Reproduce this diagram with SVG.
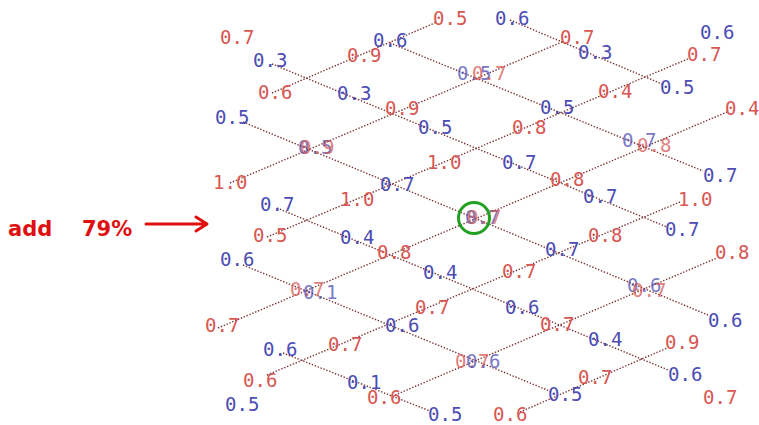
<svg xmlns="http://www.w3.org/2000/svg" width="759" height="425" viewBox="0 0 759 425">
<defs>
<style>
.ln{stroke:#7a3434;stroke-width:1.4;stroke-dasharray:1.4 1.7;fill:none}
text{font-family:"DejaVu Sans Mono","Liberation Mono",monospace;font-size:19px}
.r{fill:#d85652}
.b{fill:#4c4cb4}
.o{opacity:0.75}
.add{font-family:"DejaVu Sans","Liberation Sans",sans-serif;font-size:21px;font-weight:bold;fill:#e01010}
.arr{stroke:#e01010;stroke-width:3;fill:none;stroke-linecap:round;stroke-linejoin:round}
</style>
</defs>
<rect width="759" height="425" fill="#ffffff"/>
<g id="connectors">
<line class="ln" x1="272" y1="64" x2="667" y2="227"/>
<line class="ln" x1="390" y1="43" x2="703" y2="171"/>
<line class="ln" x1="510" y1="20" x2="662" y2="84"/>
<line class="ln" x1="243" y1="122" x2="708" y2="315"/>
<line class="ln" x1="277" y1="208" x2="668" y2="370"/>
<line class="ln" x1="243" y1="265" x2="552" y2="392"/>
<line class="ln" x1="283" y1="353" x2="430" y2="411"/>
<line class="ln" x1="272" y1="93" x2="437" y2="22"/>
<line class="ln" x1="230" y1="183" x2="562" y2="42"/>
<line class="ln" x1="267" y1="237" x2="690" y2="58"/>
<line class="ln" x1="218" y1="328" x2="727" y2="112"/>
<line class="ln" x1="267" y1="375" x2="680" y2="202"/>
<line class="ln" x1="395" y1="395" x2="717" y2="258"/>
<line class="ln" x1="520" y1="412" x2="667" y2="348"/>
</g>
<g id="labels">
<text class="r" x="220" y="44">0.7</text>
<text class="b" x="253" y="67">0.3</text>
<text class="r" x="347" y="62">0.9</text>
<text class="b" x="373" y="47">0.6</text>
<text class="r" x="433" y="25">0.5</text>
<text class="b" x="495" y="25">0.6</text>
<text class="r" x="560" y="44">0.7</text>
<text class="b" x="578" y="59">0.3</text>
<text class="b" x="700" y="39">0.6</text>
<text class="r" x="687" y="61">0.7</text>
<text class="r" x="258" y="99">0.6</text>
<text class="b" x="337" y="100">0.3</text>
<text class="b o" x="457" y="80">0.5</text>
<text class="r o" x="472" y="80">0.7</text>
<text class="r" x="598" y="98">0.4</text>
<text class="b" x="660" y="94">0.5</text>
<text class="b" x="215" y="124">0.5</text>
<text class="r" x="385" y="115">0.9</text>
<text class="b" x="418" y="134">0.5</text>
<text class="b" x="540" y="114">0.5</text>
<text class="r" x="725" y="115">0.4</text>
<text class="b o" x="298" y="154">0.5</text>
<text class="r o" x="300" y="154">0.9</text>
<text class="r" x="512" y="134">0.8</text>
<text class="b o" x="622" y="147">0.7</text>
<text class="r o" x="637" y="152">0.8</text>
<text class="r" x="427" y="169">1.0</text>
<text class="b" x="502" y="169">0.7</text>
<text class="r" x="213" y="189">1.0</text>
<text class="b" x="380" y="191">0.7</text>
<text class="r" x="550" y="186">0.8</text>
<text class="b" x="703" y="182">0.7</text>
<text class="b" x="583" y="203">0.7</text>
<text class="r" x="340" y="206">1.0</text>
<text class="b" x="260" y="211">0.7</text>
<text class="r" x="678" y="206">1.0</text>
<text class="r" x="253" y="242">0.5</text>
<text class="b" x="340" y="244">0.4</text>
<text class="b o" x="465" y="224">0.7</text>
<text class="r o" x="467" y="224">0.7</text>
<text class="b" x="665" y="236">0.7</text>
<text class="r" x="588" y="242">0.8</text>
<text class="b" x="545" y="256">0.7</text>
<text class="r" x="377" y="259">0.8</text>
<text class="r" x="715" y="259">0.8</text>
<text class="b" x="220" y="266">0.6</text>
<text class="b" x="423" y="279">0.4</text>
<text class="r" x="502" y="278">0.7</text>
<text class="r o" x="290" y="296">0.7</text>
<text class="b o" x="303" y="299">0.1</text>
<text class="b o" x="627" y="292">0.6</text>
<text class="r o" x="632" y="297">0.7</text>
<text class="r" x="415" y="314">0.7</text>
<text class="b" x="505" y="314">0.6</text>
<text class="b" x="708" y="327">0.6</text>
<text class="r" x="205" y="332">0.7</text>
<text class="b" x="385" y="332">0.6</text>
<text class="r" x="540" y="331">0.7</text>
<text class="b" x="588" y="346">0.4</text>
<text class="r" x="665" y="349">0.9</text>
<text class="r" x="328" y="351">0.7</text>
<text class="b" x="263" y="356">0.6</text>
<text class="r o" x="455" y="368">0.7</text>
<text class="b o" x="466" y="368">0.6</text>
<text class="b" x="668" y="381">0.6</text>
<text class="r" x="578" y="384">0.7</text>
<text class="r" x="243" y="387">0.6</text>
<text class="b" x="347" y="389">0.1</text>
<text class="b" x="548" y="401">0.5</text>
<text class="r" x="367" y="404">0.6</text>
<text class="r" x="703" y="404">0.7</text>
<text class="b" x="225" y="411">0.5</text>
<text class="b" x="428" y="421">0.5</text>
<text class="r" x="493" y="421">0.6</text>
</g>
<g id="highlight">
<circle cx="474" cy="218" r="15.5" fill="none" stroke="#22a022" stroke-width="3"/>
</g>
<g id="annotation">
<text class="add" x="8" y="236">add <tspan x="82">79%</tspan></text>
<path class="arr" d="M146,224 H206 M196,217 L207,224 L196,231"/>
</g>
</svg>
